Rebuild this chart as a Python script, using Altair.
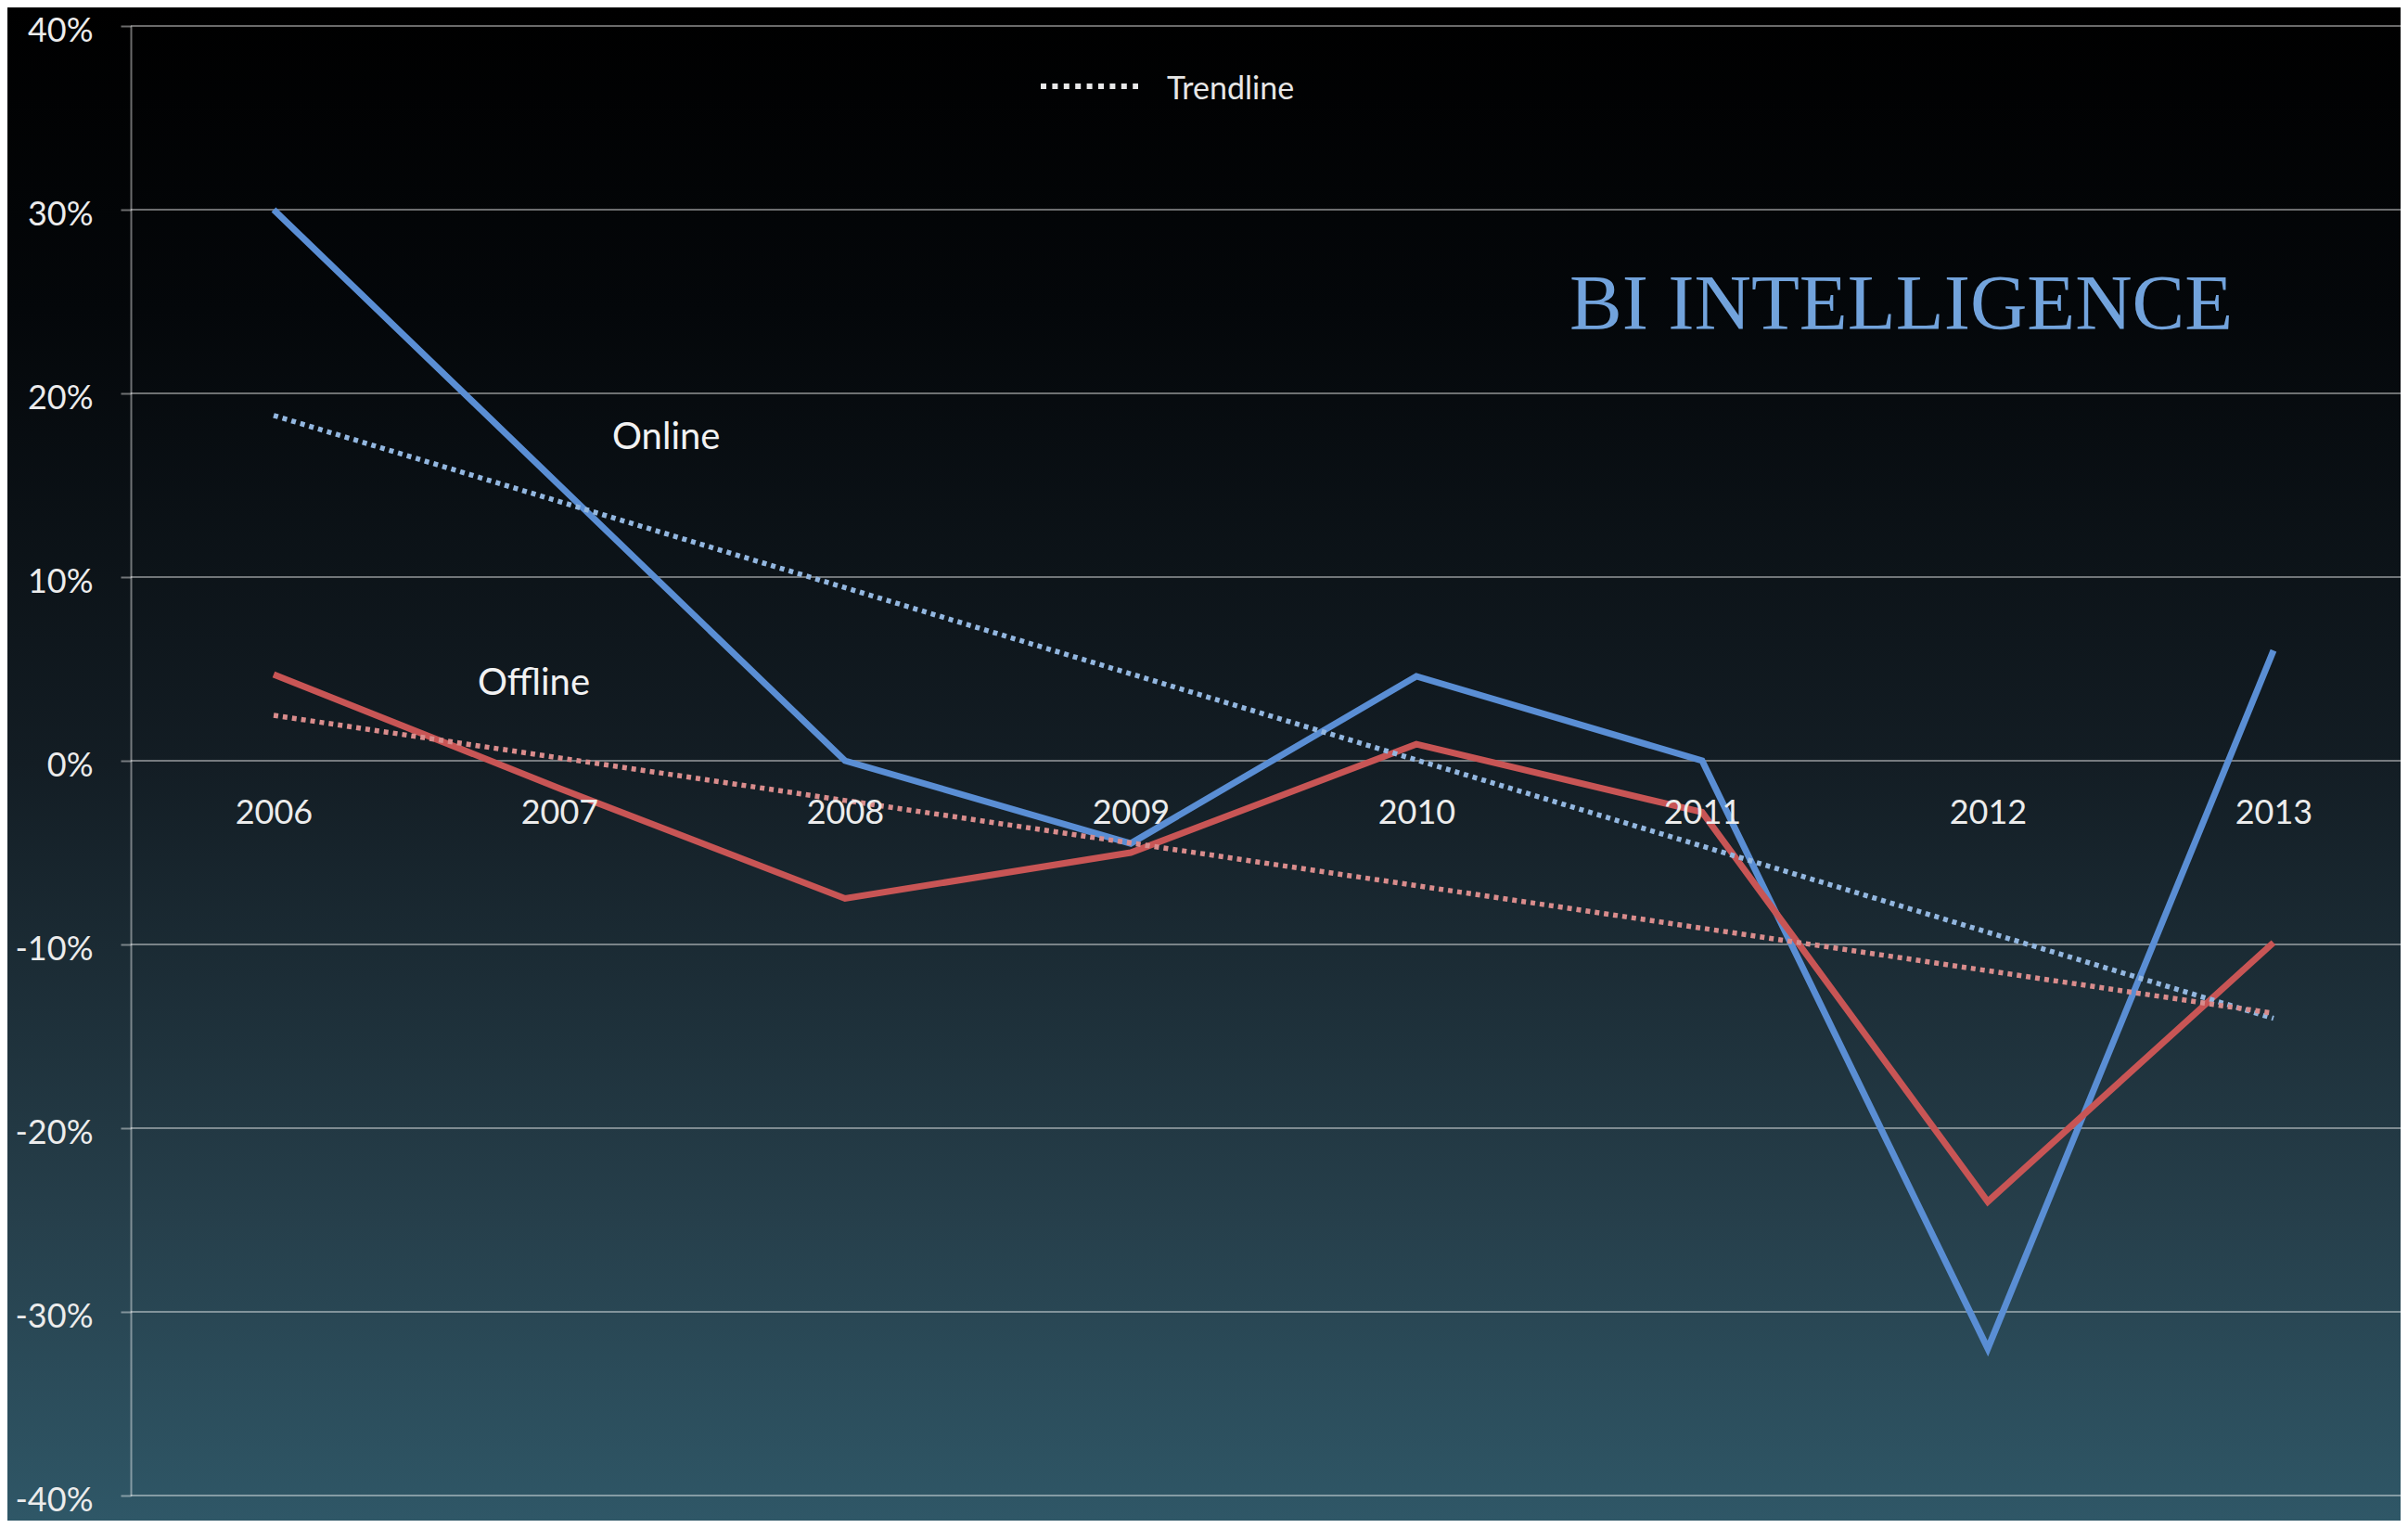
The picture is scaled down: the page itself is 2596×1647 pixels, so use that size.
import altair as alt
import pandas as pd

# ---------------- data ----------------
years = [2006, 2007, 2008, 2009, 2010, 2011, 2012, 2013]
online = [30.0, 15.0, 0.0, -4.5, 4.6, 0.0, -32.0, 6.0]
offline = [4.7, -1.5, -7.5, -5.0, 0.9, -2.8, -24.0, -9.9]
series_names = ["Online", "Offline"]
y_ticks = [-40, -30, -20, -10, 0, 10, 20, 30, 40]
x_ticks = sorted(years + [y + 0.5 for y in years[:-1]])
legend_label = ["Trendline"]
title_text = ["BI INTELLIGENCE"]

# ---------------- style ----------------
line_colors = ["#5a8ed4", "#c85555"]
trend_colors = ["#93b7e0", "#d98c8c"]
W, H = 2447, 1584
PAD = {"left": 133, "top": 20, "right": 0, "bottom": 27}
BAND = 308
x_domain = [2005.5, 2005.5 + W / BAND]

df = pd.DataFrame({
    "year": years * 2,
    "value": online + offline,
    "series": ["Online"] * len(years) + ["Offline"] * len(years),
})
grid_df = pd.DataFrame({"value": y_ticks})

x_enc = alt.X(
    "year:Q",
    title=None,
    scale=alt.Scale(domain=x_domain, nice=False, zero=False),
    axis=alt.Axis(
        values=x_ticks,
        format="d",
        labelExpr="datum.value % 1 === 0 ? datum.label : ''",
        orient="bottom",
        offset=-H / 2,
        domain=False,
        grid=False,
        tickColor="#ffffff",
        tickWidth=2,
        tickSize=13,
        tickOpacity={"condition": {"test": "datum.value % 1 === 0", "value": 0}, "value": 0.6},
        labelPadding=26,
        labelFont="Lato",
        labelFontSize=36,
        labelColor="#ececec",
        labelFlush=False,
        labelOverlap=False,
        zindex=1,
    ),
)
y_enc = alt.Y(
    "value:Q",
    title=None,
    scale=alt.Scale(domain=[-40, 40], nice=False, zero=False),
    axis=alt.Axis(
        values=y_ticks,
        labelExpr="datum.value + '%'",
        grid=False,
        domain=True,
        domainColor="#ffffff",
        domainOpacity=0.42,
        domainWidth=2,
        tickColor="#ffffff",
        tickOpacity=0.42,
        tickWidth=2,
        tickSize=11,
        labelPadding=30,
        labelOffset=5,
        labelFont="Lato",
        labelFontSize=36,
        labelColor="#ececec",
        labelFlush=False,
        labelOverlap=False,
        zindex=1,
    ),
)

gradient = alt.LinearGradient(
    gradient="linear",
    x1=0, x2=0, y1=0, y2=1,
    stops=[
        alt.GradientStop(color="#000000", offset=0),
        alt.GradientStop(color="#04070a", offset=0.2),
        alt.GradientStop(color="#131d24", offset=0.5),
        alt.GradientStop(color="#263f4b", offset=0.8),
        alt.GradientStop(color="#2f5767", offset=1),
    ],
)

one = pd.DataFrame({"k": [0]})
bg = alt.Chart(one).mark_rect(fill=gradient).encode(
    x=alt.value(-PAD["left"]), x2=alt.value(W + PAD["right"]),
    y=alt.value(-PAD["top"]), y2=alt.value(H + PAD["bottom"]),
)

grid = alt.Chart(grid_df).mark_rule(color="#ffffff", opacity=0.42, strokeWidth=2).encode(y=y_enc)

lines = alt.Chart(df).mark_line(strokeWidth=7).encode(
    x=x_enc, y=y_enc,
    color=alt.Color("series:N", scale=alt.Scale(domain=series_names, range=line_colors), legend=None),
)

trends = alt.Chart(df).transform_regression(
    "year", "value", groupby=["series"]
).mark_line(strokeWidth=5.5, strokeDash=[5, 5], strokeCap="butt").encode(
    x=x_enc, y=y_enc,
    color=alt.Color("series:N", scale=alt.Scale(domain=series_names, range=trend_colors), legend=None),
)

online_lbl = alt.Chart(pd.DataFrame({"t": [series_names[0]]})).mark_text(
    font="Lato", fontSize=40, color="#f2f2f2", align="left", baseline="alphabetic"
).encode(text="t:N", x=alt.value(519), y=alt.value(456))

offline_lbl = alt.Chart(pd.DataFrame({"t": [series_names[1]]})).mark_text(
    font="Lato", fontSize=40, color="#f2f2f2", align="left", baseline="alphabetic"
).encode(text="t:N", x=alt.value(374), y=alt.value(721))

legend_sym = alt.Chart(one).mark_rule(
    color="#e8e8e8", strokeWidth=6, strokeDash=[6, 6.4], strokeCap="butt"
).encode(x=alt.value(981), x2=alt.value(1086), y=alt.value(65))

legend_txt = alt.Chart(pd.DataFrame({"t": legend_label})).mark_text(
    font="Lato", fontSize=34, color="#e6e6e6", align="left", baseline="alphabetic"
).encode(text="t:N", x=alt.value(1117), y=alt.value(79))

title = alt.Chart(pd.DataFrame({"t": title_text})).mark_text(
    font="Liberation Serif", fontSize=85, color="#72a3dc", align="left", baseline="alphabetic"
).encode(text="t:N", x=alt.value(1551), y=alt.value(327))

chart = alt.layer(
    bg, grid, lines, trends, online_lbl, offline_lbl, legend_sym, legend_txt, title
).resolve_scale(color="independent").properties(
    width=W, height=H, autosize=alt.AutoSizeParams(type="none"), padding=PAD,
).configure_view(stroke=None).configure(background="#000000")

chart.save("out.html", embed_options={"renderer": "svg", "actions": False})
